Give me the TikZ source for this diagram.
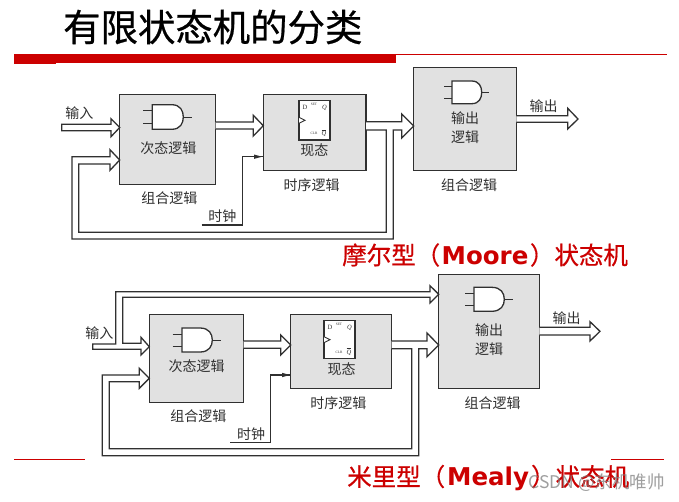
\documentclass[tikz,border=0pt]{standalone}
\usepackage{fontspec}
\setmainfont{Noto Sans CJK SC}
\newfontfamily\titlefont{Noto Sans CJK SC}[FakeBold=0.6]
\newfontfamily\headfont{Noto Sans CJK SC}[FakeBold=0.5]
\newfontfamily\latbold{DejaVu Sans}[BoldFont={DejaVu Sans Bold}]
\newfontfamily\ffserif{Liberation Serif}
\definecolor{slidered}{HTML}{CC0000}
\definecolor{boxgray}{HTML}{E1E1E1}
\definecolor{inkgray}{HTML}{303030}
\tikzset{
  x=1pt,y=-1pt,
  block/.style={draw=inkgray,fill=boxgray,line width=1.3pt,line join=miter},
  wire/.style={draw=inkgray,line width=1.1pt,line join=miter},
  hollow/.style={draw=inkgray,fill=white,line width=1.3pt,line join=miter},
  thinwire/.style={draw=inkgray,line width=.9pt},
  cjklabel/.style={inner sep=0pt,text=inkgray,font=\fontsize{14}{14}\selectfont},
  tinyq/.style={inner sep=0pt,text=inkgray,font=\ffserif\itshape\fontsize{6.5}{6.5}\selectfont},
  tinymark/.style={inner sep=0pt,text=inkgray,font=\ffserif\fontsize{3.5}{3.5}\selectfont},
  headline/.style={inner sep=0pt,anchor=west,text=slidered,font=\headfont\fontsize{24.5}{24.5}\selectfont},
}
\newcommand{\andgate}[7]{% left top bottom straightend tip inL outX
  \draw[hollow,fill=white] (#1,#2) -- (#4,#2) .. controls ({#4+(#5-#4)*.75},#2) and (#5,{#2+(#3-#2)*.25}) .. (#5,{(#2+#3)/2}) .. controls (#5,{#2+(#3-#2)*.75}) and ({#4+(#5-#4)*.75},#3) .. (#4,#3) -- (#1,#3) -- cycle;
  \draw[thinwire] (#6,{#2+(#3-#2)*.25}) -- (#1,{#2+(#3-#2)*.25});
  \draw[thinwire] (#6,{#2+(#3-#2)*.75}) -- (#1,{#2+(#3-#2)*.75});
  \draw[thinwire] (#5,{(#2+#3)/2}) -- (#7,{(#2+#3)/2});
}
\newcommand{\flipflop}[4]{% left top right bottom
  \draw[hollow,line width=1.1pt] (#1,#2) rectangle (#3,#4);
  \draw[thinwire,fill=white] (#1,{(#2+#4)/2-3}) -- ({#1+6},{(#2+#4)/2}) -- (#1,{(#2+#4)/2+3});
  \node[tinyq,font=\ffserif\fontsize{6.5}{6.5}\selectfont] at ({#1+6},{#2+7}) {D};
  \node[tinymark] at ({#1+15},{#2+3.5}) {SET};
  \node[tinyq] at ({#3-5.5},{#2+7}) {Q};
  \node[tinymark] at ({#1+15},{#4-6.5}) {CLR};
  \node[tinyq] at ({#3-6},{#4-7}) {$\overline{\mbox{Q}}$};
}
\begin{document}
\begin{tikzpicture}
\useasboundingbox (0,0) rectangle (679,501);
\fill[white] (0,0) rectangle (679,501);
% header
\node[inner sep=0pt,anchor=west,font=\titlefont\fontsize{37.4}{37.4}\selectfont,text=black] (title) at (63,27) {有限状态机的分类};
\fill[slidered] (14,54) rectangle (396,63);
\fill[slidered] (14,63) rectangle (56,63.7);
\draw[slidered,line width=.8pt] (396,54) -- (667,54);
\draw[slidered,line width=.8pt] (14,459) -- (85,459);
\draw[slidered,line width=.8pt] (611,459) -- (664,459);

% ===== Moore =====
\node[block,minimum width=96pt,minimum height=89.6pt,inner sep=0pt] (ma) at (167.7,139.5) {};
\node[block,minimum width=102.7pt,minimum height=76pt,inner sep=0pt] (mb) at (314.6,132.7) {};
\node[block,minimum width=102.6pt,minimum height=103pt,inner sep=0pt] (mc) at (465,118.8) {};
\andgate{152.3}{104.7}{129.3}{171.7}{183.3}{143.3}{192.3}
\flipflop{299}{100.7}{330}{140}
\node[cjklabel] (ma1) at (168.3,147.7) {次态逻辑};
\node[cjklabel] (ma2) at (169.3,198.3) {组合逻辑};
\node[cjklabel] (mb1) at (314.3,150) {现态};
\node[cjklabel] (mb2) at (311.7,185) {时序逻辑};
\node[cjklabel] (mc1) at (465,118.3) {输出};
\node[cjklabel] (mc2) at (465,137.3) {逻辑};
\node[cjklabel] (mc3) at (469,185) {组合逻辑};
\andgate{452}{81}{103.7}{471.7}{481.7}{444}{489.3}
% input
\draw[hollow] (61.7,124.3) -- (111,124.3) -- (111,118.7) -- (119.7,127.5) -- (111,136.7) -- (111,130.7) -- (61.7,130.7) -- cycle;
\node[cjklabel] (min) at (79.3,113.3) {输入};
% a to b
\draw[hollow] (215.7,122) -- (253.3,122) -- (253.3,115.3) -- (263.3,125.7) -- (253.3,136) -- (253.3,129) -- (215.7,129);
% feedback and to c
\draw[hollow] (366,130) -- (386.3,130) -- (386.3,232.3) -- (78.7,232.3) -- (78.7,164) -- (110,164) -- (110,170.3) -- (119.7,160) -- (110,149.7) -- (110,156.7) -- (72,156.7) -- (72,239) -- (393.3,239) -- (393.3,130) -- (401.7,130) -- (401.7,138) -- (413.7,126) -- (401.7,114) -- (401.7,121.7) -- (366,121.7);
% output
\draw[hollow] (516.3,115.7) -- (567.7,115.7) -- (567.7,108.3) -- (578,119) -- (567.7,129) -- (567.7,122.3) -- (516.3,122.3);
\node[cjklabel] (mout) at (543.7,105.7) {输出};
% clock
\coordinate (mclk) at (201.7,225);
\draw[wire] (mclk) -- (242.7,225) -- (242.7,156.7) -- (263.3,156.7);
\fill[inkgray] (254,154.5) -- (262,156.7) -- (254,158.9) -- cycle;
\node[cjklabel] (mclkl) at (222.3,216) {时钟};
\node[headline] (mname) at (342,255) {摩尔型（\hspace{1.5pt}{\latbold\bfseries Moore}\hspace{1.5pt}）状态机};

% ===== Mealy =====
\node[block,minimum width=94.4pt,minimum height=88pt,inner sep=0pt] (ya) at (196.5,358.3) {};
\node[block,minimum width=101pt,minimum height=74pt,inner sep=0pt] (yb) at (341.2,351.3) {};
\node[block,minimum width=100.6pt,minimum height=114.4pt,inner sep=0pt] (yc) at (489,331.5) {};
\andgate{182}{328}{352}{200}{212.3}{172.7}{220.7}
\flipflop{324}{320.7}{355}{358.7}
\node[cjklabel] (ya1) at (196.7,366) {次态逻辑};
\node[cjklabel] (ya2) at (198.3,415.7) {组合逻辑};
\node[cjklabel] (yb1) at (341.7,369) {现态};
\node[cjklabel] (yb2) at (338.3,403.3) {时序逻辑};
\node[cjklabel] (yc1) at (489,330.3) {输出};
\node[cjklabel] (yc2) at (489,349) {逻辑};
\node[cjklabel] (yc3) at (492.7,402.7) {组合逻辑};
\andgate{474}{287.3}{311.3}{491.7}{504.3}{465}{513}
% input with branch
\draw[hollow] (92.7,344) -- (115.7,344) -- (115.7,291.7) -- (430,291.7) -- (430,285.7) -- (438.7,294.3) -- (430,303) -- (430,297.3) -- (122.7,297.3) -- (122.7,343.3) -- (141,343.3) -- (141,337.3) -- (149.3,346.7) -- (141,355) -- (141,349.3) -- (92.7,349.3) -- cycle;
\node[cjklabel] (yin) at (99.3,332.7) {输入};
% a to b
\draw[hollow] (243.7,341) -- (280.7,341) -- (280.7,335) -- (290.7,345) -- (280.7,355) -- (280.7,348.3) -- (243.7,348.3);
% feedback
\draw[hollow] (391.7,348.7) -- (411.7,348.7) -- (411.7,448.7) -- (109.3,448.7) -- (109.3,381.7) -- (139.3,381.7) -- (139.3,388.3) -- (149.3,378.3) -- (139.3,368.3) -- (139.3,375) -- (102.3,375) -- (102.3,455.7) -- (418.7,455.7) -- (418.7,348.7) -- (427,348.7) -- (427,356.7) -- (438.7,345) -- (427,333) -- (427,341) -- (391.7,341);
% output
\draw[hollow] (539.3,327.3) -- (590,327.3) -- (590,321.7) -- (600,331.3) -- (590,341) -- (590,335) -- (539.3,335);
\node[cjklabel] (yout) at (566.7,318.3) {输出};
% clock
\coordinate (yclk) at (230,442.3);
\draw[wire] (yclk) -- (270.7,442.3) -- (270.7,375) -- (290.7,375);
\fill[inkgray] (282,372.8) -- (290,375) -- (282,377.2) -- cycle;
\node[cjklabel] (yclkl) at (251,434.3) {时钟};
\node[headline] (yname) at (347,478) {米里型（\hspace{2pt}{\latbold\bfseries Mealy}\hspace{2pt}）状态机};
% watermark
\node[inner sep=0pt,anchor=east,text=black!50,opacity=.75,font=\fontsize{17.5}{17.5}\selectfont] (mark) at (665,483) {CSDN @东机唯帅};
\end{tikzpicture}
\end{document}
